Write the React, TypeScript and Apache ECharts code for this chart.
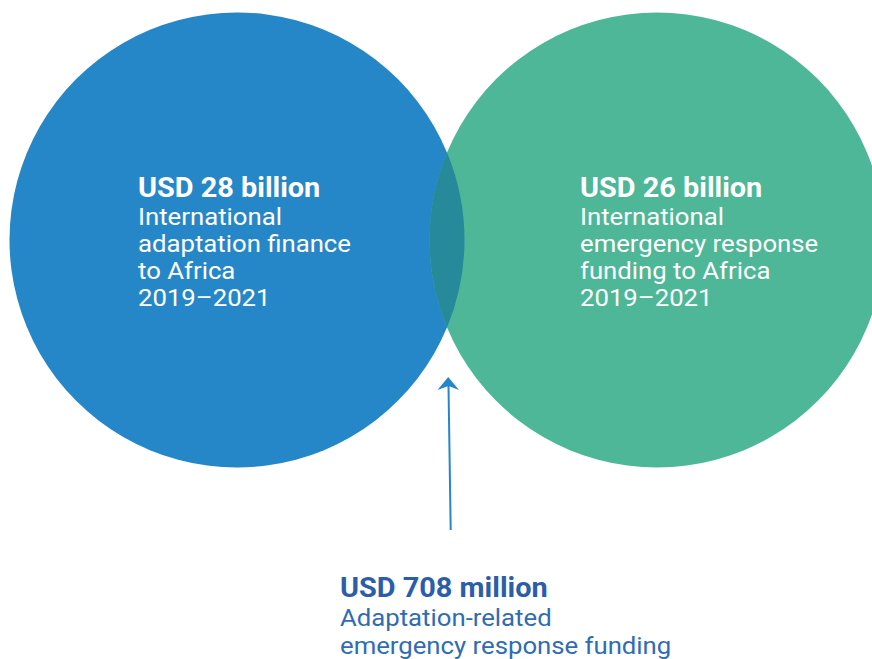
import React, { useEffect, useRef } from "react";
import * as echarts from "echarts";

// ---- data ----
const circleNames = ["International adaptation finance to Africa", "International emergency response funding to Africa"];
const circleValues = ["USD 28 billion", "USD 26 billion"];
const circleBodies = [
  ["International", "adaptation finance", "to Africa", "2019–2021"],
  ["International", "emergency response", "funding to Africa", "2019–2021"],
];
const overlapValue = "USD 708 million";
const overlapBody = ["Adaptation-related", "emergency response funding"];

// ---- layout (pixel-space coordinates on hidden axes) ----
const W = 872;
const H = 659;
const centers = [
  [237, 240],
  [657, 240],
];
const radius = 227.5;
const colors = ["#2687C8", "#4DB798"];
const overlapColor = "#278A9B";

export default function App() {
  const ref = useRef<HTMLDivElement>(null);
  useEffect(() => {
    if (!ref.current) return;
    const chart = echarts.init(ref.current, undefined, { renderer: "svg" });

    const circleData = centers.map((c, i) => ({ name: circleNames[i], value: [c[0], c[1], radius, i] }));

    const richText = (head: string, body: string[], hc: string, bc: string, hlh: number, lh: number) => ({
      text: `{h|${head}}\n` + body.map((b) => `{b|${b}}`).join("\n"),
      verticalAlign: "top",
      align: "left",
      rich: {
        h: { fontFamily: "Roboto", fontWeight: "bold", fontSize: 27.5, lineHeight: hlh, fill: hc },
        b: { fontFamily: "Roboto", fontSize: 24.5, lineHeight: lh, fill: bc },
      },
    });

    chart.setOption({
      animation: false,
      grid: { left: 0, right: 0, top: 0, bottom: 0 },
      xAxis: { type: "value", min: 0, max: W, show: false },
      yAxis: { type: "value", min: 0, max: H, inverse: true, show: false },
      series: [
        {
          type: "custom",
          z: 1,
          data: circleData,
          renderItem: (params: any, api: any) => {
            const p = api.coord([api.value(0), api.value(1)]);
            const r = api.size([api.value(2), 0])[0];
            return {
              type: "circle",
              shape: { cx: p[0], cy: p[1], r },
              style: { fill: colors[api.value(3)] },
            };
          },
        },
        {
          type: "custom",
          z: 2,
          data: [{ name: "overlap", value: [0] }],
          renderItem: (params: any, api: any) => {
            const a = api.coord(centers[0]);
            const b = api.coord(centers[1]);
            const r = api.size([radius, 0])[0];
            const mx = (a[0] + b[0]) / 2;
            const half = Math.sqrt(r * r - Math.pow((b[0] - a[0]) / 2, 2));
            const y1 = a[1] - half;
            const y2 = a[1] + half;
            const d = `M ${mx} ${y1} A ${r} ${r} 0 0 1 ${mx} ${y2} A ${r} ${r} 0 0 1 ${mx} ${y1} Z`;
            return { type: "path", shape: { pathData: d }, style: { fill: overlapColor } };
          },
        },
      ],
      graphic: [
        {
          type: "text",
          z: 100,
          x: 138,
          y: 171.5,
          scaleX: 1.05,
          style: richText(circleValues[0], circleBodies[0], "#ffffff", "#ffffff", 32, 27),
        },
        {
          type: "text",
          z: 100,
          x: 580,
          y: 171.5,
          scaleX: 1.05,
          style: richText(circleValues[1], circleBodies[1], "#ffffff", "#ffffff", 32, 27),
        },
        {
          type: "text",
          z: 100,
          x: 340,
          y: 572,
          scaleX: 1.05,
          style: richText(overlapValue, overlapBody, "#2B5EA8", "#2F6CB4", 31, 28.5),
        },
        {
          type: "line",
          z: 100,
          shape: { x1: 450.7, y1: 530, x2: 448.5, y2: 386 },
          style: { stroke: "#2687C8", lineWidth: 2 },
        },
        {
          type: "polygon",
          z: 100,
          shape: { points: [[448.2, 377], [459, 390], [448.5, 386], [437.5, 390]] },
          style: { fill: "#2687C8" },
        },
      ],
    });
    return () => chart.dispose();
  }, []);
  return <div ref={ref} style={{ position: "absolute", left: 0, top: 0, width: W, height: H }} />;
}
